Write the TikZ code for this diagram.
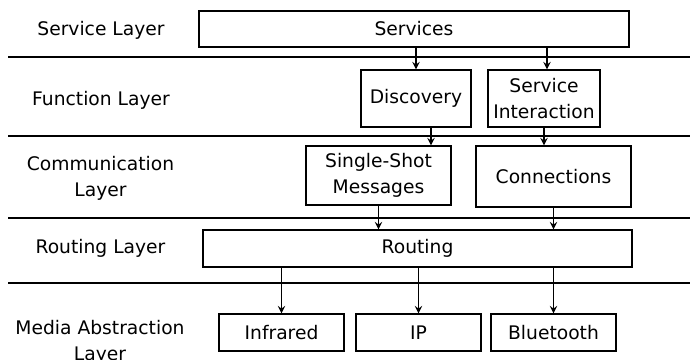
\documentclass[tikz,border=0pt]{standalone}
\usepackage{fontspec}
\setmainfont{DejaVu Sans}
\usetikzlibrary{calc}

\begin{document}
\begin{tikzpicture}[x=0.5pt,y=-0.5pt,line width=0.65pt,
    box/.style={draw,inner sep=0pt,align=center},
    layer/.style={align=center},
    >=stealth]
  \fontsize{9.35}{13}\selectfont
  \useasboundingbox (0,0) rectangle (690,359);
  % layer separators
  \foreach \y in {57,136,218,283}
    \draw (8,\y) -- (690,\y);
  % layer names
  \node [layer] (lsvc) at (101,30) {Service Layer};
  \node [layer] (lfun) at (101,100) {Function Layer};
  \node [layer] (lcom) at (100.5,178) {Communication\\Layer};
  \node [layer] (lrout) at (100.5,248) {Routing Layer};
  \node [layer] (lmed) at (100,342) {Media Abstraction\\Layer};
  % boxes
  \node [box,minimum width=215pt,minimum height=18pt] (svc) at (414,29) {Services};
  \node [box,minimum width=55pt,minimum height=28.5pt] (disc) at (416,98.5) {Discovery};
  \node [box,minimum width=56pt,minimum height=28.5pt] (si) at (544,98.5) {Service\\Interaction};
  \node [box,minimum width=72.5pt,minimum height=29.5pt] (ssm) at (378.5,175.5) {Single-Shot\\Messages};
  \node [box,minimum width=77.5pt,minimum height=30.5pt] (conn) at (553.5,176.5) {Connections};
  \node [box,minimum width=214.5pt,minimum height=18.5pt] (rout) at (417.5,248.5) {Routing};
  \node [box,minimum width=62.5pt,minimum height=18.5pt] (ir) at (281.5,332.5) {Infrared};
  \node [box,minimum width=62.5pt,minimum height=18.5pt] (ip) at (418.5,332.5) {IP};
  \node [box,minimum width=62.5pt,minimum height=18.5pt] (bt) at (553.5,332.5) {Bluetooth};
  % arrows
  \draw [->] (svc.south -| disc) -- (disc.north);
  \draw [->] ([xshift=1.5pt]svc.south -| si) -- ([xshift=1.5pt]si.north);
  \draw [->] ([xshift=7.5pt]disc.south) -- ([xshift=7.5pt]disc.south |- ssm.north);
  \draw [->] (si.south) -- (si.south |- conn.north);
  \draw [->] (ssm.south) -- (ssm.south |- rout.north);
  \draw [->] (conn.south) -- (conn.south |- rout.north);
  \draw [->] (rout.south -| ir) -- (ir.north);
  \draw [->] (rout.south -| ip) -- (ip.north);
  \draw [->] (rout.south -| bt) -- (bt.north);
\end{tikzpicture}
\end{document}
